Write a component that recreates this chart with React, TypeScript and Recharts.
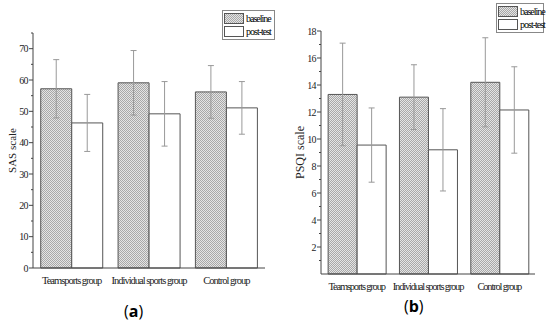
import { Bar, BarChart, ErrorBar, Legend, XAxis, YAxis } from "recharts";

const groups = ["Teamsports group", "Individual sports group", "Control group"];

const sasBaseline = [57.2, 59.1, 56.2];
const sasBaselineSd = [9.3, 10.3, 8.4];
const sasPost = [46.3, 49.2, 51.1];
const sasPostSd = [9.1, 10.3, 8.4];

const psqiBaseline = [13.3, 13.1, 14.2];
const psqiBaselineSd = [3.8, 2.4, 3.3];
const psqiPost = [9.55, 9.2, 12.15];
const psqiPostSd = [2.75, 3.05, 3.2];

const sasTicks = [0, 5, 10, 15, 20, 25, 30, 35, 40, 45, 50, 55, 60, 65, 70, 75];
const psqiTicks = [1, 2, 3, 4, 5, 6, 7, 8, 9, 10, 11, 12, 13, 14, 15, 16, 17, 18];

const sasData = groups.map((g, i) => ({
  group: g,
  baseline: sasBaseline[i],
  baselineSd: sasBaselineSd[i],
  post: sasPost[i],
  postSd: sasPostSd[i],
}));

const psqiData = groups.map((g, i) => ({
  group: g,
  baseline: psqiBaseline[i],
  baselineSd: psqiBaselineSd[i],
  post: psqiPost[i],
  postSd: psqiPostSd[i],
}));

const serif = "Liberation Serif, DejaVu Serif, serif";
const axisColor = "#444";
const checker =
  "repeating-conic-gradient(#a8a8a8 0 25%, #e4e4e4 0 50%) 0 0 / 2px 2px";

function makeYTick(majorEvery: number) {
  return (props: any) => {
    const { x, y, payload } = props;
    const major = payload.value % majorEvery === 0;
    return (
      <g>
        <line x1={x} x2={x - (major ? 4 : 2)} y1={y} y2={y} stroke={axisColor} />
        {major && (
          <text
            x={x - 5}
            y={y}
            dy="0.35em"
            textAnchor="end"
            fontSize={10}
            fontFamily={serif}
            letterSpacing={-0.6}
            fill="#222"
          >
            {payload.value}
          </text>
        )}
      </g>
    );
  };
}

function makeXTick(spacing: number) {
  return (props: any) => {
    const { x, y, payload } = props;
    return (
      <text
        x={x}
        y={y}
        dy="0.71em"
        textAnchor="middle"
        fontSize={10.5}
        fontFamily={serif}
        letterSpacing={spacing}
        fill="#222"
      >
        {payload.value}
      </text>
    );
  };
}

// fine 1px checkerboard, like the scanned hatch
function HatchDefs({ id }: { id: string }) {
  return (
    <defs>
      <pattern id={id} width={2} height={2} patternUnits="userSpaceOnUse">
        <rect width={2} height={2} fill="#e4e4e4" />
        <rect width={1} height={1} fill="#a8a8a8" />
        <rect x={1} y={1} width={1} height={1} fill="#a8a8a8" />
      </pattern>
    </defs>
  );
}

// legend box floats over the chart so it takes no space from the plot
function LegendBox({ left, top, width }: { left: number; top: number; width: number }) {
  const items = ["baseline", "post-test"];
  return (
    <div
      style={{
        position: "absolute",
        left,
        top,
        width,
        border: "1px solid #888",
        padding: "1px 1px",
        background: "#fff",
        fontFamily: serif,
        fontSize: 10,
        letterSpacing: -1,
        lineHeight: "13px",
        whiteSpace: "nowrap",
        boxSizing: "border-box",
      }}
    >
      {items.map((label) => (
        <div key={label} style={{ display: "flex", alignItems: "center", height: 13 }}>
          <span
            style={{
              display: "inline-block",
              flex: "none",
              width: 18,
              height: 9,
              border: "1px solid #555",
              background: label === "baseline" ? checker : "#fff",
              marginRight: 2,
            }}
          />
          <span>{label}</span>
        </div>
      ))}
    </div>
  );
}

export default function App() {
  return (
    <div style={{ position: "absolute", left: 0, top: 0, width: 550, height: 330, background: "#fff" }}>
      <div style={{ position: "absolute", left: 0, top: 0 }}>
        <BarChart
          width={275}
          height={300}
          data={sasData}
          margin={{ top: 33, right: 10, left: 0, bottom: 0 }}
          barCategoryGap="10%"
          barGap={0}
        >
          <HatchDefs id="hatchA" />
          <XAxis
            dataKey="group"
            height={32}
            tickLine={false}
            tickSize={0}
            tickMargin={9}
            stroke={axisColor}
            tick={makeXTick(-1)}
            interval={0}
          />
          <YAxis
            width={33}
            domain={[0, 75]}
            ticks={sasTicks}
            interval={0}
            tickLine={false}
            tickSize={0}
            tickMargin={0}
            stroke={axisColor}
            tick={makeYTick(10)}
            label={{
              value: "SAS  scale",
              angle: -90,
              position: "insideLeft",
              offset: 12,
              style: { fontSize: 11, fontFamily: serif, fill: "#222", textAnchor: "middle" },
            }}
          />
          <Legend
            content={() => <LegendBox left={222} top={10} width={53} />}
            wrapperStyle={{ position: "absolute", left: 0, top: 0, width: 0, height: 0 }}
          />
          <Bar dataKey="baseline" fill="url(#hatchA)" stroke="#555" strokeWidth={1} isAnimationActive={false}>
            <ErrorBar dataKey="baselineSd" width={3} stroke="#999" strokeWidth={1} direction="y" />
          </Bar>
          <Bar dataKey="post" fill="#fff" stroke="#555" strokeWidth={1} isAnimationActive={false}>
            <ErrorBar dataKey="postSd" width={3} stroke="#999" strokeWidth={1} direction="y" />
          </Bar>
        </BarChart>
      </div>

      <div style={{ position: "absolute", left: 275, top: 0 }}>
        <BarChart
          width={275}
          height={300}
          data={psqiData}
          margin={{ top: 31, right: 15, left: 0, bottom: 0 }}
          barCategoryGap="10%"
          barGap={0}
        >
          <HatchDefs id="hatchB" />
          <XAxis
            dataKey="group"
            height={26}
            tickLine={false}
            tickSize={0}
            tickMargin={9}
            stroke={axisColor}
            tick={makeXTick(-1.2)}
            interval={0}
          />
          <YAxis
            width={46}
            domain={[0, 18]}
            ticks={psqiTicks}
            interval={0}
            tickLine={false}
            tickSize={0}
            tickMargin={0}
            stroke={axisColor}
            tick={makeYTick(2)}
            label={{
              value: "PSQI  scale",
              angle: -90,
              position: "insideLeft",
              offset: 25,
              style: { fontSize: 12, fontFamily: serif, fill: "#222", textAnchor: "middle" },
            }}
          />
          <Legend
            content={() => <LegendBox left={221} top={3} width={48} />}
            wrapperStyle={{ position: "absolute", left: 0, top: 0, width: 0, height: 0 }}
          />
          <Bar dataKey="baseline" fill="url(#hatchB)" stroke="#555" strokeWidth={1} isAnimationActive={false}>
            <ErrorBar dataKey="baselineSd" width={3} stroke="#999" strokeWidth={1} direction="y" />
          </Bar>
          <Bar dataKey="post" fill="#fff" stroke="#555" strokeWidth={1} isAnimationActive={false}>
            <ErrorBar dataKey="postSd" width={3} stroke="#999" strokeWidth={1} direction="y" />
          </Bar>
        </BarChart>
      </div>

      <div
        style={{
          position: "absolute",
          left: 124,
          top: 300,
          fontFamily: "'Open Sans', sans-serif",
          fontSize: 16,
          fontWeight: 700,
        }}
      >
        <span style={{ fontWeight: 400 }}>(</span>a<span style={{ fontWeight: 400 }}>)</span>
      </div>
      <div
        style={{
          position: "absolute",
          left: 404,
          top: 295,
          fontFamily: "'Open Sans', sans-serif",
          fontSize: 16,
          fontWeight: 700,
        }}
      >
        <span style={{ fontWeight: 400 }}>(</span>b<span style={{ fontWeight: 400 }}>)</span>
      </div>
    </div>
  );
}
